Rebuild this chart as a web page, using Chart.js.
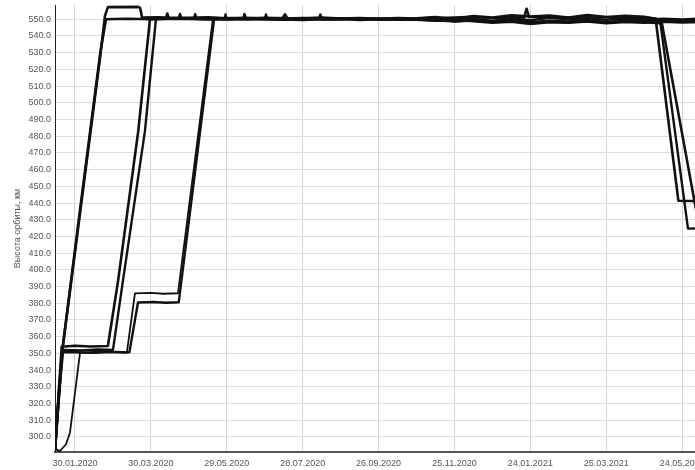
<!DOCTYPE html>
<html>
<head>
<meta charset="utf-8">
<script src="https://cdn.jsdelivr.net/npm/chart.js@4"></script>
<style>
  html, body { margin: 0; padding: 0; background: #fff; overflow: hidden; width: 695px; height: 470px; }
  #wrap { position: relative; width: 740px; height: 470px; }
</style>
</head>
<body>
<div id="wrap"><canvas id="c"></canvas></div>
<script>
// Days are counted from 30.01.2020; altitudes in km.
const startDate = Date.UTC(2020, 0, 30);
const xTickDays = [0, 60, 120, 180, 240, 300, 360, 420, 480];

// Satellite 1: raised straight to orbit, overshoot, later deorbited to ~441 km
const sat1Days = [-15.8, -13, -10, -4, 4, 12, 20, 23.7, 26, 50, 51.5, 53, 66, 72, 73, 74, 90, 105, 120, 135, 150, 165, 180, 195, 210, 225, 240, 255, 270, 285, 300, 315, 330, 345, 355, 357, 359, 375, 390, 405, 420, 435, 450, 459, 477, 490, 505, 520];
const sat1Km = [292, 322, 352, 387, 434, 481, 528, 552, 557.2, 557.4, 556.8, 551, 551.2, 551, 553.4, 551, 550.8, 551.1, 550.6, 550.9, 550.4, 550.7, 550.2, 550.5, 550.3, 550.6, 550.1, 550.4, 550.0, 550.6, 551.0, 551.4, 550.6, 551.2, 551.0, 556.2, 551.3, 551.6, 550.9, 551.8, 551.2, 550.6, 551.1, 550.4, 441.4, 441.2, 441.5, 441.3];

// Satellite 2: parked at ~354 km, then raised
const sat2Days = [-15.8, -13, -10.5, 0, 12, 26, 34, 50, 59.3, 70, 82, 83, 84, 105, 120, 133, 134, 135, 150, 165, 180, 195, 210, 225, 240, 255, 270, 285, 300, 315, 330, 345, 360, 375, 390, 405, 420, 435, 450, 465, 480, 495, 510, 520];
const sat2Km = [292, 325, 354, 354.6, 354.1, 354.4, 393, 483, 550, 550.5, 550.3, 553.1, 550.4, 550.2, 549.9, 550.1, 553.0, 550.2, 550.0, 549.7, 550.1, 549.8, 550.2, 549.6, 550.0, 549.7, 549.9, 549.2, 548.8, 549.6, 548.5, 549.3, 548.1, 549.0, 548.6, 549.4, 548.2, 549.1, 548.7, 549.3, 548.9, 549.2, 548.8, 549.0];

// Satellite 3: parked at ~352 km, raised, later deorbited to ~425 km
const sat3Days = [-15.8, -12.5, -10, 5, 18, 30, 37.9, 55.3, 64, 80, 94, 95, 96, 110, 120, 135, 150, 151, 152, 165, 180, 195, 210, 225, 240, 255, 270, 285, 300, 315, 330, 345, 360, 375, 390, 405, 420, 435, 450, 462.5, 484.6, 500, 520];
const sat3Km = [292, 330, 352, 351.8, 352.3, 352, 393.4, 483, 550, 550.6, 550.4, 553.0, 550.5, 550.7, 550.3, 550.6, 550.2, 552.8, 550.3, 550.5, 550.8, 550.3, 550.6, 550.2, 550.5, 550.1, 550.6, 551.3, 550.2, 552.0, 551.1, 552.4, 551.6, 552.2, 551.0, 552.6, 551.4, 552.1, 551.5, 549.5, 424.7, 424.9, 424.8];

// Satellite 4: slow start, steps at ~350 and ~386 km
const sat4Days = [-15.8, -12, -7.2, -4, 4, 15, 28, 41, 47.4, 60, 70, 81.4, 109, 118, 119, 120, 135, 150, 165, 180, 195, 210, 225, 240, 255, 270, 285, 300, 315, 330, 345, 360, 375, 390, 405, 420, 435, 450, 465, 480, 495, 510, 520];
const sat4Km = [293, 291.5, 295.5, 302.4, 350.5, 350.2, 350.8, 350.4, 385.9, 386.2, 385.7, 386, 550, 550.4, 553.2, 550.5, 550.1, 550.4, 550.0, 550.3, 549.9, 550.2, 550.0, 549.6, 550.1, 549.5, 548.9, 549.4, 548.5, 547.6, 548.2, 546.9, 548.0, 547.6, 548.4, 547.3, 548.1, 547.6, 548.2, 547.8, 548.1, 547.7, 547.9];

// Satellite 5: steps at ~351 and ~380 km
const sat5Days = [-15.8, -12, -9.5, 10, 25, 43, 49.8, 62, 72, 82, 110, 120, 135, 150, 164, 166, 168, 180, 195, 210, 225, 240, 255, 270, 285, 300, 315, 330, 345, 360, 375, 390, 405, 420, 435, 450, 465, 480, 495, 510, 520];
const sat5Km = [292, 330, 350.8, 350.5, 351, 350.6, 380.5, 380.8, 380.3, 380.6, 550, 550.8, 550.5, 550.9, 550.6, 553.0, 550.5, 550.6, 551.0, 550.5, 550.8, 550.3, 550.7, 550.4, 550.9, 549.6, 550.3, 549.0, 550.5, 549.4, 550.8, 549.9, 550.6, 549.7, 550.4, 549.8, 550.3, 549.9, 550.4, 550.1, 550.2];

// Satellite 6: raised straight to orbit, deorbiting at the end
const sat6Days = [-15.8, -13, -10, -4, 4, 12, 20, 24.5, 40, 52, 60, 75, 90, 105, 120, 135, 150, 165, 180, 193, 194, 195, 210, 225, 240, 255, 270, 285, 300, 315, 330, 345, 360, 375, 390, 405, 420, 435, 450, 464, 490, 500, 510];
const sat6Km = [292, 322, 352, 388, 436, 483, 530, 550, 550.3, 550.1, 550.0, 550.3, 550.1, 549.9, 550.2, 549.8, 550.1, 549.9, 549.6, 550.0, 552.7, 549.8, 549.9, 550.3, 549.8, 550.0, 549.7, 550.3, 548.6, 549.2, 548.3, 548.9, 547.8, 548.6, 548.2, 549.0, 548.1, 548.9, 548.4, 547.5, 440, 402, 364];

const series = [
  { name: 'Спутник 1', days: sat1Days, km: sat1Km, width: 2.6 },
  { name: 'Спутник 2', days: sat2Days, km: sat2Km, width: 2.6 },
  { name: 'Спутник 3', days: sat3Days, km: sat3Km, width: 2.4 },
  { name: 'Спутник 4', days: sat4Days, km: sat4Km, width: 1.8 },
  { name: 'Спутник 5', days: sat5Days, km: sat5Km, width: 2.4 },
  { name: 'Спутник 6', days: sat6Days, km: sat6Km, width: 2.6 }
];

function fmtDate(day) {
  const d = new Date(startDate + day * 86400000);
  const dd = String(d.getUTCDate()).padStart(2, '0');
  const mm = String(d.getUTCMonth() + 1).padStart(2, '0');
  return dd + '.' + mm + '.' + d.getUTCFullYear();
}

const tickFont = { family: 'Liberation Sans, Arial, sans-serif', size: 9 };

new Chart(document.getElementById('c'), {
  type: 'line',
  data: {
    datasets: series.map(s => ({
      label: s.name,
      data: s.days.map((d, i) => ({ x: d, y: s.km[i] })),
      borderColor: '#111',
      borderWidth: s.width,
      pointRadius: 0,
      tension: 0,
      fill: false,
      borderJoinStyle: 'round'
    }))
  },
  options: {
    responsive: true,
    maintainAspectRatio: false,
    animation: false,
    devicePixelRatio: 1,
    layout: { padding: { top: 5, right: 8, bottom: 0, left: 0 } },
    plugins: { legend: { display: false }, tooltip: { enabled: false } },
    scales: {
      x: {
        type: 'linear',
        min: -15.8,
        max: 519.4,
        afterBuildTicks: scale => { scale.ticks = xTickDays.map(v => ({ value: v })); },
        afterFit: scale => { scale.height = 18; scale.paddingLeft = 0; scale.paddingRight = 0; },
        ticks: {
          autoSkip: false, maxRotation: 0, padding: 6,
          color: '#555', font: tickFont,
          callback: v => fmtDate(v)
        },
        grid: { color: '#d6d6d6', lineWidth: 1, drawTicks: false },
        border: { color: '#555', width: 2 }
      },
      y: {
        min: 291,
        max: 558.5,
        afterFit: scale => { scale.width = 55; scale.paddingTop = 0; scale.paddingBottom = 0; },
        ticks: {
          stepSize: 10, includeBounds: false, padding: 4,
          color: '#555', font: tickFont,
          callback: v => Number(v).toFixed(1)
        },
        grid: { color: '#dcdcdc', lineWidth: 1, drawTicks: false },
        border: { color: '#222', width: 1 },
        title: {
          display: true,
          text: 'Высота орбиты, км',
          color: '#555',
          font: tickFont,
          padding: { top: 12, bottom: 0 }
        }
      }
    }
  }
});
</script>
</body>
</html>
